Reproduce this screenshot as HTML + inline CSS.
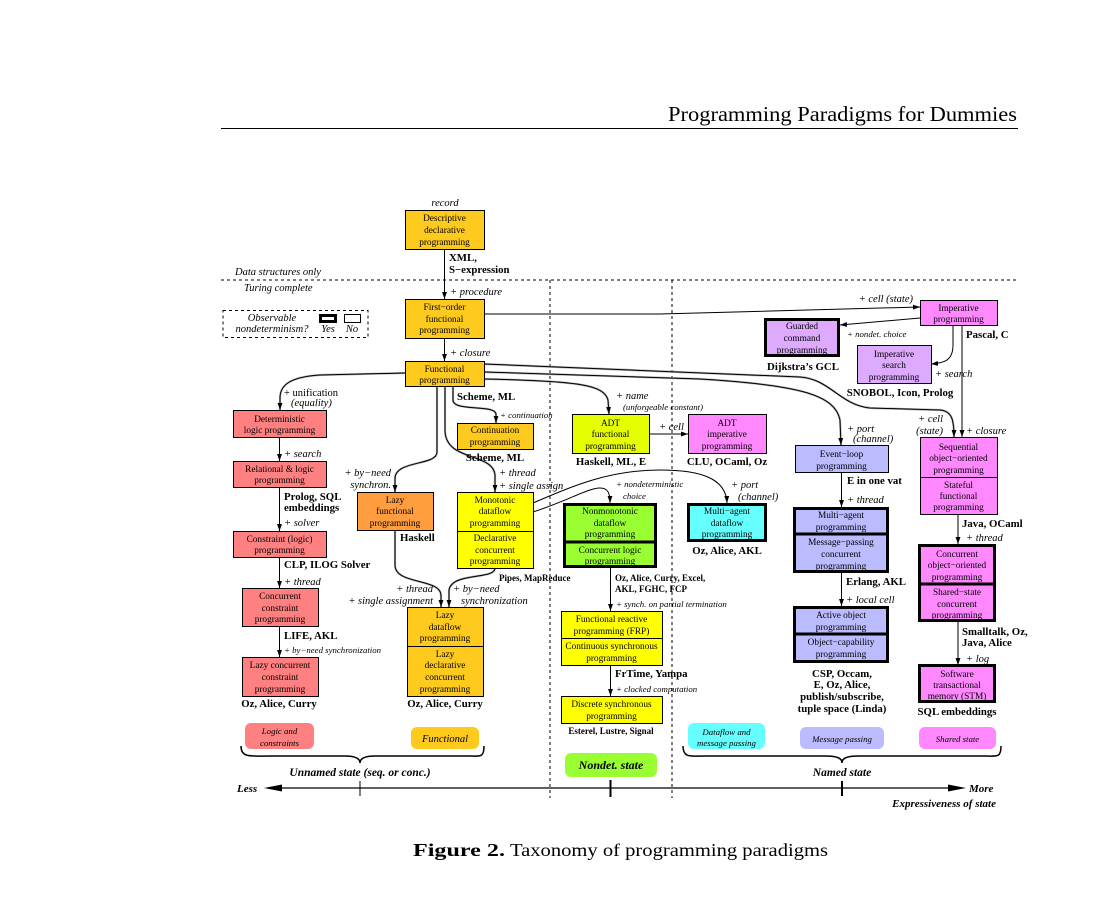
<!DOCTYPE html>
<html><head><meta charset="utf-8"><style>
html,body{margin:0;padding:0;background:#fff}
svg{display:block}
text{font-family:"Liberation Serif",serif;fill:#000}
.n{font-size:9.3px;text-anchor:middle}
.b{font-size:10.8px;font-weight:bold}
.sb{font-size:9px;font-weight:bold}
.i{font-size:10.5px;font-style:italic}
.s{font-size:8.8px;font-style:italic}
.c{text-anchor:middle}
.e{text-anchor:end}
.bi{font-weight:bold;font-style:italic}
.h{stroke:#b4b4b4;stroke-width:2.2;fill:none}
.k{stroke:#000;stroke-width:1;fill:none}
</style></head><body>
<svg width="1108" height="908" viewBox="0 0 1108 908" xmlns="http://www.w3.org/2000/svg">
<defs><marker id="a" viewBox="0 0 10 10" refX="10" refY="5" markerWidth="7" markerHeight="7" markerUnits="userSpaceOnUse" orient="auto"><path d="M0,1.5 L10,5 L0,8.5 z" fill="#000"/></marker></defs>
<rect width="1108" height="908" fill="#fff"/>

<!-- header -->
<text x="668" y="121" font-size="21" textLength="349" lengthAdjust="spacingAndGlyphs">Programming Paradigms for Dummies</text>
<line x1="221" y1="128.5" x2="1018" y2="128.5" stroke="#000" stroke-width="1"/>

<!-- caption -->
<text x="413" y="856" font-size="18" font-weight="bold" textLength="92" lengthAdjust="spacingAndGlyphs">Figure 2.</text>
<text x="510" y="856" font-size="18" textLength="318" lengthAdjust="spacingAndGlyphs">Taxonomy of programming paradigms</text>

<!-- dashed separators -->
<g stroke="#000" stroke-width="1" stroke-dasharray="3,3" fill="none">
<line x1="221" y1="280" x2="1018" y2="280"/>
<line x1="550" y1="280" x2="550" y2="798"/>
<line x1="672" y1="280" x2="672" y2="798"/>
<rect x="223" y="310.5" width="145" height="27"/>
</g>
<text class="i" x="235" y="275">Data structures only</text>
<text class="i" x="244" y="291">Turing complete</text>

<!-- legend -->
<text class="i c" x="272" y="321">Observable</text>
<text class="i c" x="272" y="332">nondeterminism?</text>
<rect x="320.5" y="315.5" width="15" height="6" fill="#fff" stroke="#000" stroke-width="3"/>
<rect x="344.5" y="314.5" width="16" height="8" fill="#fff" stroke="#000" stroke-width="1"/>
<text class="i c" x="328" y="332">Yes</text>
<text class="i c" x="352" y="332">No</text>

<!-- halo connectors -->
<g class="h">
<path d="M405,373 L320,375 C290,377 280,385 280,398 L280,410"/>
<path d="M484,364 L800,377 C830,379 840,405 870,408 L940,410 C952,411 954,420 954,437"/>
<path d="M484,372 L700,379 C800,385 835,395 840,420 L841,445"/>
<path d="M484,379 C580,381 604,385 608,400 L609,414"/>
<path d="M437,386 L437,452 C437,466 396,460 395,478 L395,492"/>
<path d="M445,386 L445,430 C445,462 493,452 495,475 L495,492"/>
<path d="M453,386 L453,400 C453,412 495,404 496,414 L496,423"/>
<path d="M395,530 L395,565 C395,585 440,578 441,595 L441,607"/>
<path d="M495,568 C495,580 452,572 449,590 L449,607"/>
</g>
<g class="k" marker-end="url(#a)">
<path d="M405,373 L320,375 C290,377 280,385 280,398 L280,410"/>
<path d="M484,364 L800,377 C830,379 840,405 870,408 L940,410 C952,411 954,420 954,437"/>
<path d="M484,372 L700,379 C800,385 835,395 840,420 L841,445"/>
<path d="M484,379 C580,381 604,385 608,400 L609,414"/>
<path d="M437,386 L437,452 C437,466 396,460 395,478 L395,492"/>
<path d="M445,386 L445,430 C445,462 493,452 495,475 L495,492"/>
<path d="M453,386 L453,400 C453,412 495,404 496,414 L496,423"/>
<path d="M395,530 L395,565 C395,585 440,578 441,595 L441,607"/>
<path d="M495,568 C495,580 452,572 449,590 L449,607"/>
<path d="M533,503 C575,485 610,470 660,470 C700,470 726,478 727,503"/>
<path d="M533,512 C570,500 588,488 600,488 C608,488 610,493 610,503"/>
<!-- straight arrows -->
<path d="M444.5,249 L444.5,299"/>
<path d="M444.5,338 L444.5,361"/>
<path d="M279.5,437 L279.5,461"/>
<path d="M279.5,487 L279.5,531"/>
<path d="M279.5,557 L279.5,588"/>
<path d="M279.5,626 L279.5,657"/>
<path d="M649,434 L688,434"/>
<path d="M610.5,567 L610.5,611"/>
<path d="M610.5,665 L610.5,696"/>
<path d="M841.5,472 L841.5,507"/>
<path d="M841.5,573 L841.5,606"/>
<path d="M962,325 L962,437"/>
<path d="M958,514 L958,544"/>
<path d="M958,622 L958,665"/>
<path d="M484,314 L660,314 L920,307"/>
<path d="M920,318 L840,325"/>
<path d="M953,325 L953,345 C953,360 945,363 931,364"/>
</g>

<!-- nodes -->
<g stroke="#000" stroke-width="1">
<rect x="405.5" y="210.5" width="79" height="39" fill="#FDCA1D"/>
<rect x="405.5" y="299.5" width="79" height="39" fill="#FDCA1D"/>
<rect x="405.5" y="361.5" width="79" height="25" fill="#FDCA1D"/>
<rect x="457.5" y="423.5" width="76" height="26" fill="#FDCA1D"/>
<rect x="407.5" y="607.5" width="76" height="89" fill="#FDCA1D"/>
<line x1="407.5" y1="646.5" x2="483.5" y2="646.5"/>
<rect x="233.5" y="410.5" width="93" height="27" fill="#FF8080"/>
<rect x="233.5" y="461.5" width="93" height="26" fill="#FF8080"/>
<rect x="233.5" y="531.5" width="93" height="26" fill="#FF8080"/>
<rect x="242.5" y="588.5" width="76" height="38" fill="#FF8080"/>
<rect x="242.5" y="657.5" width="76" height="39" fill="#FF8080"/>
<rect x="357.5" y="492.5" width="76" height="38" fill="#FF9D3F"/>
<rect x="457.5" y="492.5" width="76" height="76" fill="#FFFF00"/>
<line x1="457.5" y1="531.5" x2="533.5" y2="531.5"/>
<rect x="561.5" y="611.5" width="101" height="54" fill="#FFFF00"/>
<line x1="561.5" y1="638.5" x2="662.5" y2="638.5"/>
<rect x="561.5" y="696.5" width="101" height="27" fill="#FFFF00"/>
<rect x="572.5" y="414.5" width="77" height="39" fill="#E5FF00"/>
<rect x="688.5" y="414.5" width="78" height="39" fill="#FF88FF"/>
<rect x="920.5" y="300.5" width="77" height="25" fill="#FF88FF"/>
<rect x="920.5" y="437.5" width="77" height="77" fill="#FF88FF"/>
<line x1="920.5" y1="477.5" x2="997.5" y2="477.5"/>
<rect x="795.5" y="445.5" width="93" height="27" fill="#BBBBFF"/>
<rect x="857.5" y="345.5" width="74" height="38" fill="#DDAAFF"/>
</g>
<g stroke="#000" stroke-width="3">
<rect x="919.5" y="545.5" width="75" height="75" fill="#FF88FF"/>
<line x1="919.5" y1="584" x2="994.5" y2="584"/>
<rect x="919.5" y="665.5" width="75" height="36" fill="#FF88FF"/>
<rect x="794.5" y="508.5" width="93" height="63" fill="#BBBBFF"/>
<line x1="794.5" y1="534" x2="887.5" y2="534"/>
<rect x="794.5" y="607.5" width="93" height="54" fill="#BBBBFF"/>
<line x1="794.5" y1="634" x2="887.5" y2="634"/>
<rect x="564.5" y="504.5" width="91" height="62" fill="#99FF33"/>
<line x1="564.5" y1="542" x2="655.5" y2="542"/>
<rect x="688.5" y="504.5" width="77" height="36" fill="#66FFFF"/>
<rect x="765.5" y="319.5" width="73" height="36" fill="#DDAAFF"/>
</g>

<!-- node text -->
<text class="n" x="444.5" y="221">Descriptive</text>
<text class="n" x="444.5" y="233">declarative</text>
<text class="n" x="444.5" y="245">programming</text>
<text class="n" x="444.5" y="310">First−order</text>
<text class="n" x="444.5" y="322">functional</text>
<text class="n" x="444.5" y="333">programming</text>
<text class="n" x="444.5" y="372">Functional</text>
<text class="n" x="444.5" y="383">programming</text>
<text class="n" x="279.5" y="422">Deterministic</text>
<text class="n" x="279.5" y="433">logic programming</text>
<text class="n" x="279.5" y="472">Relational &amp; logic</text>
<text class="n" x="279.5" y="483">programming</text>
<text class="n" x="279.5" y="542">Constraint (logic)</text>
<text class="n" x="279.5" y="553">programming</text>
<text class="n" x="280" y="599">Concurrent</text>
<text class="n" x="280" y="611">constraint</text>
<text class="n" x="280" y="622">programming</text>
<text class="n" x="280" y="668">Lazy concurrent</text>
<text class="n" x="280" y="680">constraint</text>
<text class="n" x="280" y="692">programming</text>
<text class="n" x="395" y="503">Lazy</text>
<text class="n" x="395" y="514">functional</text>
<text class="n" x="395" y="526">programming</text>
<text class="n" x="495" y="503">Monotonic</text>
<text class="n" x="495" y="514">dataflow</text>
<text class="n" x="495" y="526">programming</text>
<text class="n" x="495" y="541">Declarative</text>
<text class="n" x="495" y="553">concurrent</text>
<text class="n" x="495" y="564">programming</text>
<text class="n" x="495" y="433">Continuation</text>
<text class="n" x="495" y="445">programming</text>
<text class="n" x="445" y="618">Lazy</text>
<text class="n" x="445" y="630">dataflow</text>
<text class="n" x="445" y="641">programming</text>
<text class="n" x="445" y="657">Lazy</text>
<text class="n" x="445" y="668">declarative</text>
<text class="n" x="445" y="680">concurrent</text>
<text class="n" x="445" y="692">programming</text>
<text class="n" x="610.5" y="426">ADT</text>
<text class="n" x="610.5" y="437">functional</text>
<text class="n" x="610.5" y="449">programming</text>
<text class="n" x="727" y="426">ADT</text>
<text class="n" x="727" y="437">imperative</text>
<text class="n" x="727" y="449">programming</text>
<text class="n" x="610" y="514">Nonmonotonic</text>
<text class="n" x="610" y="526">dataflow</text>
<text class="n" x="610" y="537">programming</text>
<text class="n" x="610" y="553">Concurrent logic</text>
<text class="n" x="610" y="564">programming</text>
<text class="n" x="727" y="514">Multi−agent</text>
<text class="n" x="727" y="526">dataflow</text>
<text class="n" x="727" y="537">programming</text>
<text class="n" x="611.5" y="622">Functional reactive</text>
<text class="n" x="611.5" y="634">programming (FRP)</text>
<text class="n" x="611.5" y="649">Continuous synchronous</text>
<text class="n" x="611.5" y="661">programming</text>
<text class="n" x="611.5" y="707">Discrete synchronous</text>
<text class="n" x="611.5" y="719">programming</text>
<text class="n" x="841.5" y="457">Event−loop</text>
<text class="n" x="841.5" y="469">programming</text>
<text class="n" x="841" y="518">Multi−agent</text>
<text class="n" x="841" y="530">programming</text>
<text class="n" x="841" y="545">Message−passing</text>
<text class="n" x="841" y="557">concurrent</text>
<text class="n" x="841" y="569">programming</text>
<text class="n" x="841" y="618">Active object</text>
<text class="n" x="841" y="630">programming</text>
<text class="n" x="841" y="645">Object−capability</text>
<text class="n" x="841" y="657">programming</text>
<text class="n" x="958.5" y="311">Imperative</text>
<text class="n" x="958.5" y="322">programming</text>
<text class="n" x="802" y="329">Guarded</text>
<text class="n" x="802" y="341">command</text>
<text class="n" x="802" y="353">programming</text>
<text class="n" x="894" y="357">Imperative</text>
<text class="n" x="894" y="368">search</text>
<text class="n" x="894" y="380">programming</text>
<text class="n" x="958.5" y="450">Sequential</text>
<text class="n" x="958.5" y="461">object−oriented</text>
<text class="n" x="958.5" y="473">programming</text>
<text class="n" x="958.5" y="488">Stateful</text>
<text class="n" x="958.5" y="499">functional</text>
<text class="n" x="958.5" y="510">programming</text>
<text class="n" x="957" y="557">Concurrent</text>
<text class="n" x="957" y="568">object−oriented</text>
<text class="n" x="957" y="580">programming</text>
<text class="n" x="957" y="595">Shared−state</text>
<text class="n" x="957" y="607">concurrent</text>
<text class="n" x="957" y="618">programming</text>
<text class="n" x="957" y="677">Software</text>
<text class="n" x="957" y="688">transactional</text>
<text class="n" x="957" y="699">memory (STM)</text>

<!-- edge labels -->
<text class="i c" x="445" y="206">record</text>
<text class="b" x="449" y="261">XML,</text>
<text class="b" x="449" y="273">S−expression</text>
<text class="i" x="450" y="295">+ procedure</text>
<text class="i" x="450" y="356">+ closure</text>
<text class="i e" x="913" y="302">+ cell (state)</text>
<text class="s" x="847" y="337">+ nondet. choice</text>
<text class="b" x="966" y="338">Pascal, C</text>
<text class="b c" x="803" y="370">Dijkstra’s GCL</text>
<text class="b c" x="900" y="396">SNOBOL, Icon, Prolog</text>
<text class="i" x="935" y="377">+ search</text>
<text class="i e" x="943" y="422">+ cell</text>
<text class="i e" x="943" y="434">(state)</text>
<text class="i" x="966" y="434">+ closure</text>
<text class="i" x="847" y="432">+ port</text>
<text class="i" x="853" y="442">(channel)</text>
<text class="b" x="847" y="484">E in one vat</text>
<text class="i" x="847" y="503">+ thread</text>
<text class="b" x="962" y="527">Java, OCaml</text>
<text class="i" x="966" y="541">+ thread</text>
<text class="b" x="962" y="635">Smalltalk, Oz,</text>
<text class="b" x="962" y="646">Java, Alice</text>
<text class="i" x="966" y="662">+ log</text>
<text class="b c" x="957" y="715">SQL embeddings</text>
<text class="b" x="846" y="585">Erlang, AKL</text>
<text class="i" x="846" y="603">+ local cell</text>
<text class="b c" x="842" y="677">CSP, Occam,</text>
<text class="b c" x="842" y="688">E, Oz, Alice,</text>
<text class="b c" x="842" y="700">publish/subscribe,</text>
<text class="b c" x="842" y="712">tuple space (Linda)</text>

<text x="284" y="396" font-size="10.5">+ unification</text>
<text class="i" x="291" y="406">(equality)</text>
<text class="b" x="457" y="400">Scheme, ML</text>
<text class="s" x="500" y="418">+ continuation</text>
<text class="b c" x="495" y="461">Scheme, ML</text>
<text class="i" x="284" y="457">+ search</text>
<text class="b" x="284" y="500">Prolog, SQL</text>
<text class="b" x="284" y="511">embeddings</text>
<text class="i" x="284" y="526">+ solver</text>
<text class="b" x="284" y="568">CLP, ILOG Solver</text>
<text class="i" x="284" y="585">+ thread</text>
<text class="b" x="284" y="639">LIFE, AKL</text>
<text class="s" x="284" y="653">+ by−need synchronization</text>
<text class="b c" x="279" y="707">Oz, Alice, Curry</text>
<text class="i e" x="391" y="476">+ by−need</text>
<text class="i e" x="391" y="488">synchron.</text>
<text class="b" x="400" y="541">Haskell</text>
<text class="i" x="499" y="476">+ thread</text>
<text class="i" x="499" y="489">+ single assign</text>
<text class="sb" x="499" y="581">Pipes, MapReduce</text>
<text class="i e" x="433" y="592">+ thread</text>
<text class="i e" x="433" y="604">+ single assignment</text>
<text class="i" x="453" y="592">+ by−need</text>
<text class="i" x="461" y="604">synchronization</text>
<text class="b c" x="445" y="707">Oz, Alice, Curry</text>

<text class="i" x="616" y="399">+ name</text>
<text class="s" x="623" y="410">(unforgeable constant)</text>
<text class="i" x="659" y="430">+ cell</text>
<text class="b c" x="611" y="465">Haskell, ML, E</text>
<text class="b c" x="727" y="465">CLU, OCaml, Oz</text>
<text class="s" x="616" y="487">+ nondeterministic</text>
<text class="s" x="623" y="499">choice</text>
<text class="i" x="731" y="488">+ port</text>
<text class="i" x="738" y="500">(channel)</text>
<text class="b c" x="727" y="554">Oz, Alice, AKL</text>
<text class="sb" x="615" y="581">Oz, Alice, Curry, Excel,</text>
<text class="sb" x="615" y="592">AKL, FGHC, FCP</text>
<text class="s" x="616" y="607">+ synch. on partial termination</text>
<text class="b" x="615" y="677" font-size="10">FrTime, Yampa</text>
<text class="s" x="616" y="692">+ clocked computation</text>
<text class="sb c" x="611" y="734">Esterel, Lustre, Signal</text>

<!-- bottom category labels -->
<rect x="245" y="723" width="69" height="26" rx="6" fill="#FF8080"/>
<text class="s c" x="279.5" y="734" font-size="9">Logic and</text>
<text class="s c" x="279.5" y="746" font-size="9">constraints</text>
<rect x="411" y="727" width="68" height="22" rx="6" fill="#FDCA1D"/>
<text class="i c" x="445" y="742" font-size="10">Functional</text>
<rect x="565" y="753" width="92" height="24" rx="6" fill="#99FF33"/>
<text class="bi c" x="611" y="769" font-size="12">Nondet. state</text>
<rect x="688" y="723" width="77" height="26" rx="6" fill="#66FFFF"/>
<text class="s c" x="726.5" y="735" font-size="9">Dataflow and</text>
<text class="s c" x="726.5" y="746" font-size="9">message passing</text>
<rect x="800" y="727" width="84" height="22" rx="6" fill="#BBBBFF"/>
<text class="s c" x="842" y="742" font-size="9">Message passing</text>
<rect x="919" y="727" width="77" height="22" rx="6" fill="#FF88FF"/>
<text class="s c" x="957.5" y="742" font-size="9">Shared state</text>

<!-- braces -->
<g stroke="#000" stroke-width="1.5" fill="none">
<path d="M241,746 C241,758 250,756 270,756 L345,756 C355,756 360,758 360,763 C360,758 365,756 375,756 L470,756 C480,756 484,758 484,746"/>
<path d="M683,746 C683,758 690,756 705,756 L825,756 C837,756 842,758 842,763 C842,758 847,756 859,756 L985,756 C997,756 1001,758 1001,746"/>
</g>
<text class="bi c" x="360" y="776" font-size="11.5">Unnamed state (seq. or conc.)</text>
<text class="bi c" x="842" y="776" font-size="11.5">Named state</text>

<!-- axis -->
<line x1="278" y1="788" x2="952" y2="788" stroke="#000" stroke-width="1.2"/>
<polygon points="264,788 282,784.5 282,791.5" fill="#000"/>
<polygon points="966,788 948,784.5 948,791.5" fill="#000"/>
<line x1="360" y1="781" x2="360" y2="796" stroke="#000" stroke-width="1"/>
<line x1="610.5" y1="780" x2="610.5" y2="797" stroke="#000" stroke-width="2"/>
<line x1="842" y1="781" x2="842" y2="796" stroke="#000" stroke-width="2"/>
<text class="bi" x="237" y="792" font-size="11">Less</text>
<text class="bi" x="969" y="792" font-size="11">More</text>
<text class="bi e" x="996" y="807" font-size="11">Expressiveness of state</text>
</svg>
</body></html>
